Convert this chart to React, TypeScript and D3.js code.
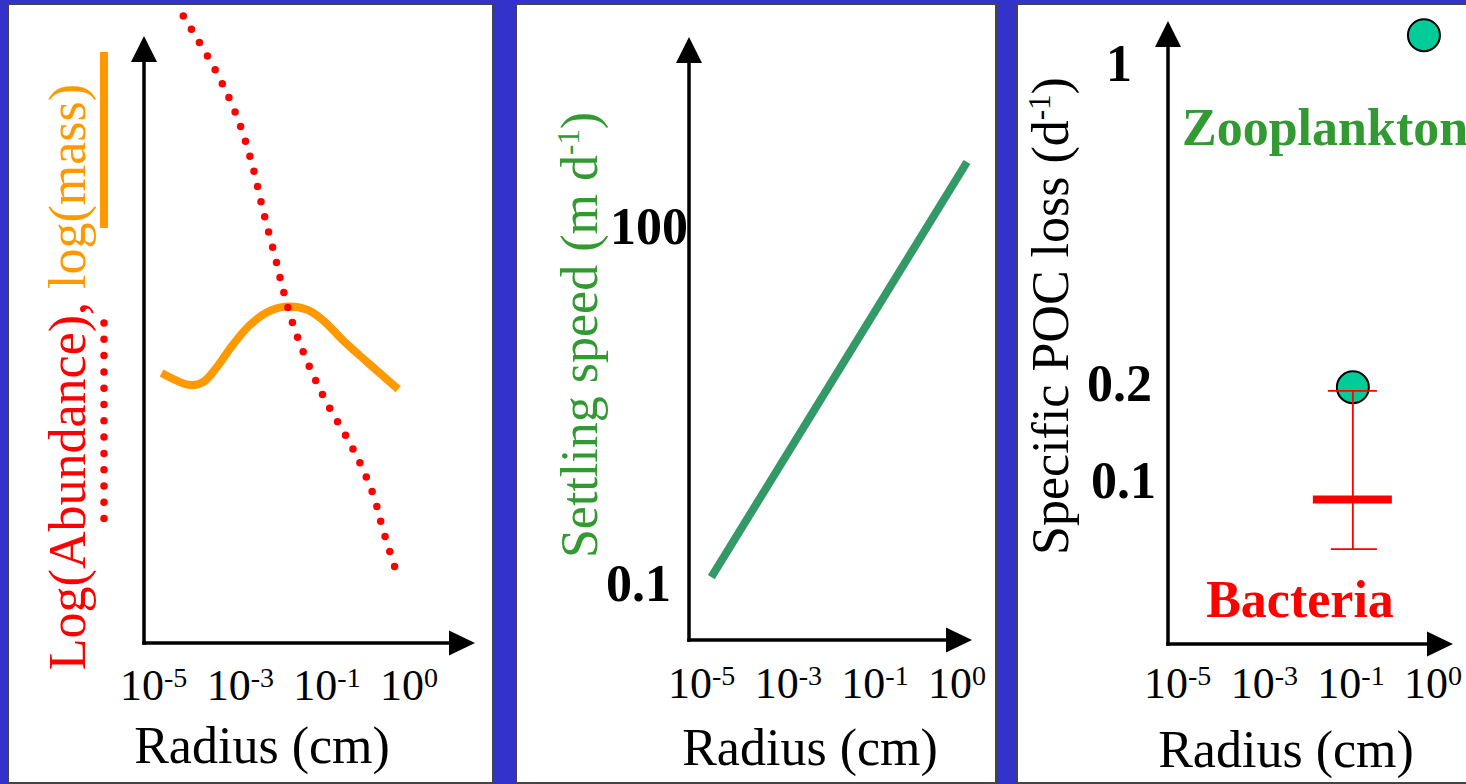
import React, { useEffect, useRef } from 'react';
import * as d3 from 'd3';

// x tick labels, shared by the three panels (10^exp)
const radiusExponents = ['-5', '-3', '-1', '0'];

// panel 1: schematic curves, x in tick-label units, y in arbitrary log units
const abundanceX = [0.73, 1.11, 1.35, 1.52, 1.65, 1.79, 1.88, 1.98, 2.11, 2.26, 2.43, 2.62, 2.79, 2.93, 3.03, 3.2];
const abundanceY = [10.33, 9.41, 8.67, 7.91, 7.13, 6.36, 5.83, 5.32, 4.81, 4.32, 3.84, 3.38, 2.9, 2.41, 1.89, 1.12];
const massX = [0.48, 0.81, 0.96, 1.12, 1.3, 1.5, 1.7, 1.9, 2.16, 2.34, 2.57, 2.85, 3.21];
const massY = [4.45, 4.25, 4.3, 4.55, 4.91, 5.24, 5.45, 5.54, 5.49, 5.32, 4.99, 4.63, 4.18];

// panel 2: settling speed (m d-1)
const speedTicks = [0.1, 100];
const speedX = [0.5, 3.45];
const speedY = [0.112, 345];

// panel 3: specific POC loss (d-1)
const lossTicks = [0.1, 0.2, 1];
const lossGroups = ['Bacteria', 'Zooplankton'];
const lossX = [2.41, 3.23];
const lossY = [0.194, 1.15];
const bacteriaMean = 0.087;
const bacteriaLow = 0.061;
const bacteriaHigh = 0.189;

const FONT = "'Liberation Serif', 'Times New Roman', serif";
const RED = '#ff0000';
const ORANGE = '#ff9900';
const GREEN_TEXT = '#339933';
const GREEN_LINE = '#339966';
const TEAL = '#00cc99';

const panels = [
  { left: 8, width: 485, axisX: 144, axisY: 643, yTip: 36, xTip: 475, labelX0: 120, tickY: 700, titleX: 262, titleY: 763 },
  { left: 516, width: 480, axisX: 689, axisY: 640, yTip: 37, xTip: 972, labelX0: 668, tickY: 698, titleX: 810, titleY: 765 },
  { left: 1017, width: 470, axisX: 1168, axisY: 644, yTip: 21, xTip: 1453, labelX0: 1144, tickY: 698, titleX: 1286, titleY: 767 },
];

function App() {
  const svgRef = useRef<SVGSVGElement>(null);

  useEffect(() => {
    document.body.style.margin = '0';
    const svg = d3.select(svgRef.current);
    svg.selectAll('*').remove();

    svg.append('rect').attr('width', 1466).attr('height', 784).attr('fill', '#3333cc');

    const xScales = panels.map((p) =>
      d3.scaleLinear().domain([0, 3]).range([p.labelX0, p.labelX0 + 260])
    );

    panels.forEach((p, i) => {
      const g = svg.append('g');
      g.append('rect')
        .attr('x', p.left).attr('y', 4)
        .attr('width', p.width).attr('height', 779)
        .attr('fill', '#fff').attr('stroke', '#444').attr('stroke-width', 2);

      // axes with arrow heads
      g.append('line')
        .attr('x1', p.axisX).attr('y1', p.axisY + 1.75)
        .attr('x2', p.axisX).attr('y2', p.yTip + 24)
        .attr('stroke', '#000').attr('stroke-width', 3.5);
      g.append('path')
        .attr('d', `M${p.axisX - 13},${p.yTip + 26}L${p.axisX + 13},${p.yTip + 26}L${p.axisX},${p.yTip}Z`)
        .attr('fill', '#000');
      g.append('line')
        .attr('x1', p.axisX - 1.75).attr('y1', p.axisY)
        .attr('x2', p.xTip - 24).attr('y2', p.axisY)
        .attr('stroke', '#000').attr('stroke-width', 3.5);
      g.append('path')
        .attr('d', `M${p.xTip - 26},${p.axisY - 12.5}L${p.xTip - 26},${p.axisY + 12.5}L${p.xTip},${p.axisY}Z`)
        .attr('fill', '#000');

      // x tick labels
      const x = xScales[i];
      radiusExponents.forEach((e, k) => {
        const t = g.append('text')
          .attr('x', x(k)).attr('y', p.tickY)
          .attr('font-family', FONT).attr('font-size', 44).attr('fill', '#000')
          .text('10');
        t.append('tspan').attr('font-size', 28).attr('dy', -13).text(e);
      });

      g.append('text')
        .attr('x', p.titleX).attr('y', p.titleY)
        .attr('text-anchor', 'middle')
        .attr('font-family', FONT).attr('font-size', 52).attr('fill', '#000')
        .text('Radius (cm)');
    });

    const rotLabel = (bx: number, cy: number, parts: { t: string; c: string; sup?: boolean }[]) => {
      const t = svg.append('text')
        .attr('transform', `translate(${bx},${cy}) rotate(-90)`)
        .attr('text-anchor', 'middle')
        .attr('font-family', FONT).attr('font-size', 52);
      let raised = false;
      parts.forEach((part) => {
        const s = t.append('tspan').attr('fill', part.c).text(part.t);
        if (part.sup) {
          s.attr('font-size', 31).attr('dy', -18);
          raised = true;
        } else if (raised) {
          s.attr('dy', 18);
          raised = false;
        }
      });
    };

    // ---- panel 1
    {
      const x = xScales[0];
      const y = d3.scaleLinear().domain([0, 10]).range([643, 36]);
      const line = d3.line<number>()
        .curve(d3.curveCatmullRom);

      svg.append('path')
        .attr('d', line.x((_, k) => x(massX[k])).y((d) => y(d))(massY))
        .attr('fill', 'none').attr('stroke', ORANGE).attr('stroke-width', 8);

      svg.append('path')
        .attr('d', line.x((_, k) => x(abundanceX[k])).y((d) => y(d))(abundanceY))
        .attr('fill', 'none').attr('stroke', RED).attr('stroke-width', 7.5)
        .attr('stroke-linecap', 'round').attr('stroke-dasharray', '0 15.6');

      rotLabel(85, 377, [
        { t: 'Log(Abundance), ', c: RED },
        { t: 'log(mass)', c: ORANGE },
      ]);
      // legend keys beside the label
      svg.append('rect').attr('x', 100).attr('y', 52).attr('width', 8).attr('height', 176).attr('fill', ORANGE);
      svg.append('line')
        .attr('x1', 104).attr('y1', 323).attr('x2', 104).attr('y2', 520)
        .attr('stroke', RED).attr('stroke-width', 7.5)
        .attr('stroke-linecap', 'round').attr('stroke-dasharray', '0 16.3');
    }

    // ---- panel 2
    {
      const x = xScales[1];
      const y = d3.scaleLog().domain([0.1, 100]).range([583, 226]);
      const tickEnd = [671, 688];
      speedTicks.forEach((v, k) => {
        svg.append('text')
          .attr('x', tickEnd[k]).attr('y', y(v)).attr('dy', '0.34em')
          .attr('text-anchor', 'end')
          .attr('font-family', FONT).attr('font-size', 52).attr('font-weight', 'bold')
          .text(String(v));
      });
      svg.append('path')
        .attr('d', d3.line<number>().x((_, k) => x(speedX[k])).y((d) => y(d))(speedY))
        .attr('stroke', GREEN_LINE).attr('stroke-width', 8).attr('fill', 'none');

      rotLabel(597, 335, [
        { t: 'Settling speed (m d', c: GREEN_TEXT },
        { t: '-1', c: GREEN_TEXT, sup: true },
        { t: ')', c: GREEN_TEXT },
      ]);
    }

    // ---- panel 3
    {
      const x = xScales[2];
      const y = d3.scaleLog().domain([0.1, 0.2, 1]).range([480, 383, 63]);
      const tickEnd = [1156, 1152, 1132];
      lossTicks.forEach((v, k) => {
        svg.append('text')
          .attr('x', tickEnd[k]).attr('y', y(v)).attr('dy', '0.34em')
          .attr('text-anchor', 'end')
          .attr('font-family', FONT).attr('font-size', 52).attr('font-weight', 'bold')
          .text(String(v));
      });

      lossGroups.forEach((_, k) => {
        svg.append('circle')
          .attr('cx', x(lossX[k])).attr('cy', y(lossY[k])).attr('r', 16)
          .attr('fill', TEAL).attr('stroke', '#000').attr('stroke-width', 2);
      });

      const bx = x(lossX[0]);
      svg.append('line')
        .attr('x1', bx).attr('x2', bx)
        .attr('y1', y(bacteriaHigh)).attr('y2', y(bacteriaLow))
        .attr('stroke', RED).attr('stroke-width', 1.8);
      svg.append('line')
        .attr('x1', bx - 25).attr('x2', bx + 24)
        .attr('y1', y(bacteriaHigh)).attr('y2', y(bacteriaHigh))
        .attr('stroke', RED).attr('stroke-width', 1.8);
      svg.append('line')
        .attr('x1', bx - 22).attr('x2', bx + 24)
        .attr('y1', y(bacteriaLow)).attr('y2', y(bacteriaLow))
        .attr('stroke', RED).attr('stroke-width', 1.8);
      svg.append('line')
        .attr('x1', bx - 40).attr('x2', bx + 39)
        .attr('y1', y(bacteriaMean)).attr('y2', y(bacteriaMean))
        .attr('stroke', RED).attr('stroke-width', 8);

      svg.append('text')
        .attr('x', 1182).attr('y', 145)
        .attr('font-family', FONT).attr('font-size', 52).attr('font-weight', 'bold')
        .attr('fill', GREEN_TEXT).text(lossGroups[1]);
      svg.append('text')
        .attr('x', 1300).attr('y', 617).attr('text-anchor', 'middle')
        .attr('font-family', FONT).attr('font-size', 52).attr('font-weight', 'bold')
        .attr('fill', RED).text(lossGroups[0]);

      rotLabel(1068, 316, [
        { t: 'Specific POC loss (d', c: '#000' },
        { t: '-1', c: '#000', sup: true },
        { t: ')', c: '#000' },
      ]);
    }
  }, []);

  return (
    <svg
      ref={svgRef}
      width={1466}
      height={784}
      style={{ position: 'absolute', left: 0, top: 0, display: 'block' }}
    />
  );
}

export default App;
